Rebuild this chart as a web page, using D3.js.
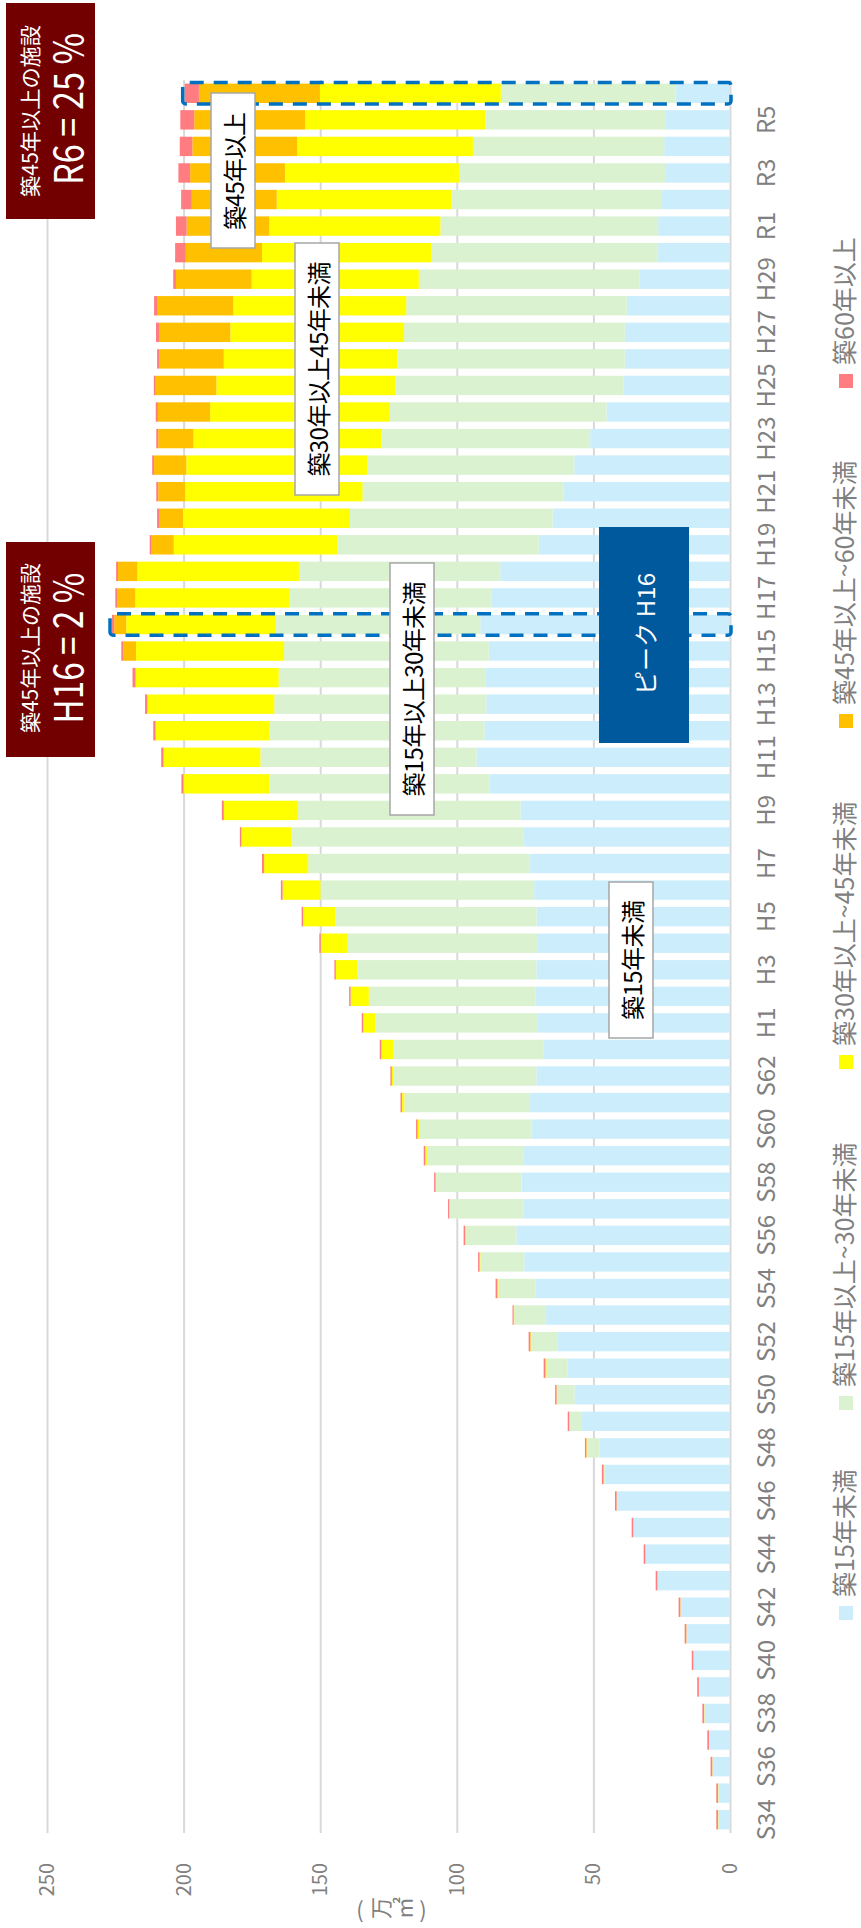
<!DOCTYPE html>
<html>
<head>
<meta charset="utf-8">
<script src="https://cdn.jsdelivr.net/npm/d3@7"></script>
<style>
  body { margin: 0; background: #fff; }
  svg { display: block; }
</style>
</head>
<body>
<script>
// fiscal years, oldest first (the chart is turned on its side, so S34 ends up at the bottom)
const categories = [
  "S34","S35","S36","S37","S38","S39","S40","S41","S42","S43",
  "S44","S45","S46","S47","S48","S49","S50","S51","S52","S53",
  "S54","S55","S56","S57","S58","S59","S60","S61","S62","S63",
  "H1","H2","H3","H4","H5","H6","H7","H8","H9","H10",
  "H11","H12","H13","H14","H15","H16","H17","H18","H19","H20",
  "H21","H22","H23","H24","H25","H26","H27","H28","H29","H30",
  "R1","R2","R3","R4","R5","R6"
];

// floor area, 万㎡
const under15 = [
  4.2, 4.2, 6.3, 7.5, 9.3, 11.2, 13.2, 15.8, 18.0, 26.4,
  30.8, 35.2, 41.3, 45.8, 47.8, 54.2, 56.9, 59.5, 63.0, 67.4,
  71.1, 75.3, 78.2, 75.7, 76.3, 75.7, 72.6, 73.2, 70.9, 68.4,
  70.3, 71.1, 70.9, 70.3, 70.8, 71.7, 73.3, 75.7, 76.7, 88.0,
  92.8, 89.9, 89.2, 89.6, 88.3, 91.4, 87.4, 84.1, 70.0, 64.9,
  61.0, 57.0, 51.2, 45.2, 38.9, 38.5, 38.5, 37.8, 33.2, 26.6,
  26.3, 25.2, 23.8, 24.1, 23.8, 19.9
];
const from15to30 = [
  0.1, 0.1, 0.1, 0.1, 0.1, 0.1, 0.1, 0.1, 0.1, 0.1,
  0.1, 0.1, 0.1, 0.3, 4.5, 4.4, 6.3, 7.7, 9.7, 11.6,
  13.7, 16.1, 18.4, 26.9, 31.3, 35.3, 41.2, 46.0, 52.2, 54.9,
  59.4, 61.1, 65.5, 69.6, 73.7, 78.2, 81.1, 84.8, 81.4, 80.7,
  79.1, 78.8, 77.6, 75.6, 74.9, 74.8, 74.0, 73.7, 73.6, 74.2,
  73.5, 75.8, 76.4, 79.3, 83.5, 83.2, 80.8, 80.7, 80.7, 82.8,
  79.7, 76.7, 75.1, 70.0, 65.8, 64.0
];
const from30to45 = [
  0.05, 0.05, 0.05, 0.05, 0.05, 0.05, 0.05, 0.05, 0.05, 0.05,
  0.05, 0.05, 0.05, 0.1, 0.2, 0.2, 0.2, 0.3, 0.3, 0.1,
  0.3, 0.2, 0.3, 0.1, 0.1, 0.5, 0.5, 0.8, 0.6, 4.3,
  4.5, 6.6, 7.8, 9.8, 11.7, 13.8, 16.1, 18.3, 27.1, 31.3,
  35.4, 41.5, 46.4, 52.3, 54.2, 54.8, 56.3, 59.1, 60.0, 61.1,
  64.9, 66.2, 68.8, 65.8, 65.6, 63.6, 63.6, 63.3, 61.2, 61.9,
  62.6, 64.0, 64.0, 64.3, 65.9, 66.2
];
const from45to60 = [
  0.05, 0.05, 0.05, 0.05, 0.05, 0.05, 0.05, 0.05, 0.05, 0.05,
  0.05, 0.05, 0.05, 0.1, 0.1, 0.1, 0.1, 0.1, 0.1, 0.1,
  0.1, 0.1, 0.1, 0.1, 0.1, 0.1, 0.1, 0.1, 0.1, 0.1,
  0.1, 0.1, 0.1, 0.1, 0.1, 0.1, 0.1, 0.1, 0.1, 0.1,
  0.1, 0.1, 0.1, 0.3, 4.6, 4.4, 6.5, 7.1, 8.1, 8.8,
  9.9, 11.8, 12.9, 19.1, 22.2, 23.5, 26.1, 27.7, 27.7, 27.9,
  30.3, 31.1, 34.7, 38.4, 40.6, 44.3
];
const over60 = [
  0.6, 0.6, 0.6, 0.6, 0.6, 0.6, 0.6, 0.6, 0.6, 0.6,
  0.6, 0.6, 0.6, 0.6, 0.5, 0.5, 0.5, 0.6, 0.6, 0.4,
  0.6, 0.5, 0.5, 0.4, 0.5, 0.5, 0.5, 0.5, 0.5, 0.5,
  0.5, 0.5, 0.5, 0.5, 0.5, 0.6, 0.7, 0.5, 0.7, 0.7,
  0.8, 0.8, 0.8, 0.9, 0.8, 0.8, 0.8, 0.7, 0.7, 0.7,
  0.7, 0.7, 0.7, 0.8, 0.7, 0.9, 1.1, 1.3, 1.0, 3.9,
  3.9, 3.9, 4.3, 4.6, 5.1, 5.2
];

const seriesNames = ["築15年未満", "築15年以上~30年未満", "築30年以上~45年未満", "築45年以上~60年未満", "築60年以上"];
const seriesColors = ["#cceefc", "#daf2d0", "#ffff00", "#ffc000", "#ff7c80"];
const valueTicks = [0, 50, 100, 150, 200, 250];
const highlighted = ["H16", "R6"];

const font = '"Noto Sans CJK JP", "Noto Sans", sans-serif';
const W = 861, H = 1928;

const svg = d3.select("body").append("svg")
  .attr("width", W)
  .attr("height", H)
  .attr("font-family", font);

// draw an ordinary column chart in a 1928 x 861 frame, then turn it a quarter left
const chart = svg.append("g").attr("transform", `translate(0,${H}) rotate(-90)`);

const left = 95, right = 1848;

const x = d3.scaleBand()
  .domain(categories)
  .range([left, right])
  .paddingInner(0.27)
  .paddingOuter(0.135);

const y = d3.scaleLinear().domain([0, 250]).range([730, 47]);

// gridlines + value labels
const yAxis = chart.append("g")
  .attr("transform", `translate(${left},0)`)
  .call(d3.axisLeft(y).tickValues(valueTicks).tickSize(-(right - left)).tickPadding(30));
yAxis.attr("font-family", font);
yAxis.select(".domain").remove();
yAxis.selectAll(".tick line").attr("stroke", "#d9d9d9").attr("stroke-width", 2);
yAxis.selectAll(".tick text").attr("fill", "#808080").style("font-size", "20px");

// stacked bars
const rows = categories.map((c, i) => ({
  cat: c,
  a: under15[i], b: from15to30[i], c: from30to45[i], d: from45to60[i], e: over60[i]
}));
const keys = ["a", "b", "c", "d", "e"];
const stacked = d3.stack().keys(keys)(rows);

chart.append("g")
  .selectAll("g")
  .data(stacked)
  .join("g")
  .attr("fill", (d, i) => seriesColors[i])
  .selectAll("rect")
  .data(d => d)
  .join("rect")
  .attr("x", d => x(d.data.cat))
  .attr("width", x.bandwidth())
  .attr("y", d => y(d[1]))
  .attr("height", d => y(d[0]) - y(d[1]));

// category labels, every other year
const xAxis = chart.append("g")
  .attr("transform", `translate(0,${y(0)})`)
  .call(d3.axisBottom(x).tickValues(categories.filter((d, i) => i % 2 === 0)).tickSize(0).tickPadding(28));
xAxis.attr("font-family", font);
xAxis.select(".domain").remove();
xAxis.selectAll(".tick text").attr("fill", "#808080").style("font-size", "24px");

// dashed boxes round H16 and R6
const totalOf = cat => {
  const i = categories.indexOf(cat);
  return under15[i] + from15to30[i] + from30to45[i] + from45to60[i] + over60[i];
};
chart.append("g")
  .selectAll("rect")
  .data(highlighted)
  .join("rect")
  .attr("x", d => x(d) - 1)
  .attr("width", x.bandwidth() + 2)
  .attr("y", d => y(totalOf(d)) - 2)
  .attr("height", d => y(0) - y(totalOf(d)) + 3)
  .attr("rx", 3)
  .attr("fill", "none")
  .attr("stroke", "#0070c0")
  .attr("stroke-width", 3.5)
  .attr("stroke-dasharray", "14 10");

// legend along the bottom of the upright frame
const legendX = [308, 518, 859, 1200, 1540];
const legend = chart.append("g").attr("transform", "translate(0,843)");
const item = legend.selectAll("g")
  .data(seriesNames)
  .join("g")
  .attr("transform", (d, i) => `translate(${legendX[i]},0)`);
item.append("rect")
  .attr("y", -4).attr("width", 14).attr("height", 14)
  .attr("fill", (d, i) => seriesColors[i]);
item.append("text")
  .attr("x", 23)
  .attr("dominant-baseline", "central")
  .attr("fill", "#808080")
  .style("font-size", "25px")
  .text(d => d);

// unit
const unit = svg.append("g").attr("fill", "#808080").style("font-size", "22px");
[["(", 360, 0], ["万", 379, -90], ["㎡", 402, -90], [")", 423, 0]].forEach(([t, px, r]) => {
  unit.append("text")
    .attr("transform", `translate(${px},1908) rotate(${r})`)
    .attr("text-anchor", "middle")
    .attr("dominant-baseline", "central")
    .text(t);
});

// callouts, placed on the page as it is shown
const notes = svg.append("g");

function turnedText(cx, cy, txt, size, colour, len, squeeze) {
  const t = notes.append("text")
    .attr("transform", `translate(${cx},${cy}) rotate(-90)`)
    .attr("text-anchor", "middle")
    .attr("dominant-baseline", "central")
    .attr("fill", colour)
    .style("font-size", size + "px")
    .text(txt);
  if (len) t.attr("textLength", len).attr("lengthAdjust", squeeze ? "spacingAndGlyphs" : "spacing");
}

function box(x0, y0, x1, y1, fill, stroke) {
  notes.append("rect")
    .attr("x", x0).attr("y", y0)
    .attr("width", x1 - x0).attr("height", y1 - y0)
    .attr("fill", fill)
    .attr("stroke", stroke || "none")
    .attr("stroke-width", stroke ? 1.5 : 0);
}

box(6, 3, 95, 219, "#720000");
turnedText(29, 111, "築45年以上の施設", 21, "#fff", 172, true);
turnedText(66, 109, "R6 = 25 %", 40, "#fff", 152, true);

box(6, 542, 95, 757, "#720000");
turnedText(29, 648, "築45年以上の施設", 21, "#fff", 170, true);
turnedText(66, 648, "H16 = 2 %", 40, "#fff", 151, true);

box(211, 93, 255, 248, "#fff", "#a6a6a6");
turnedText(233, 171, "築45年以上", 24, "#000", 118);

box(295, 243, 339, 495, "#fff", "#a6a6a6");
turnedText(317, 369, "築30年以上45年未満", 24, "#000", 215);

box(390, 563, 434, 815, "#fff", "#a6a6a6");
turnedText(412, 689, "築15年以上30年未満", 24, "#000", 215);

box(609, 882, 653, 1038, "#fff", "#a6a6a6");
turnedText(631, 960, "築15年未満", 24, "#000", 120);

box(599, 527, 689, 743, "#00599d");
turnedText(644, 634, "ピーク H16", 24, "#fff", 122);
</script>
</body>
</html>
